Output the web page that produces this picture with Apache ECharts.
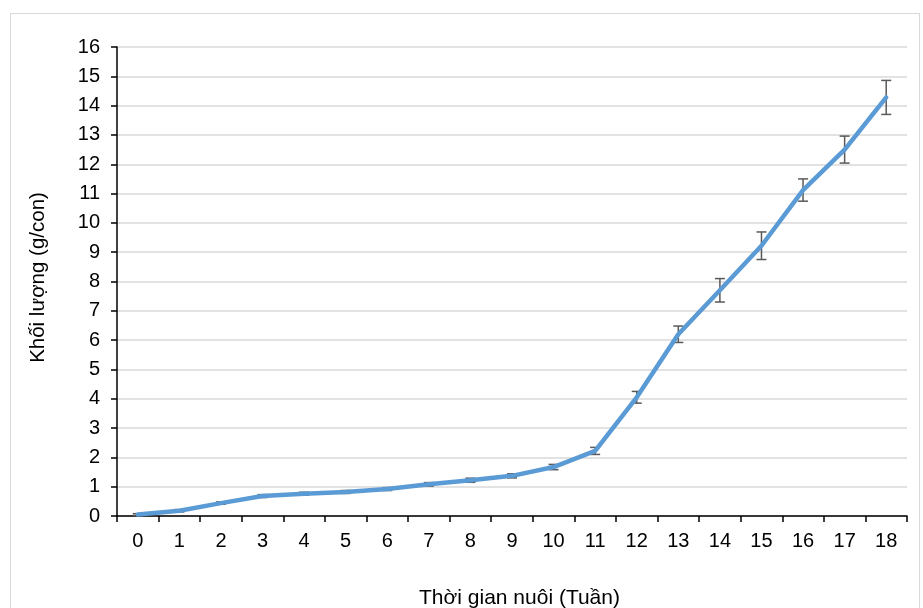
<!DOCTYPE html>
<html>
<head>
<meta charset="utf-8">
<script src="https://cdn.jsdelivr.net/npm/echarts@6/dist/echarts.min.js"></script>
<style>
  html, body { margin: 0; padding: 0; background: #fff; overflow: hidden; }
  #wrap { position: relative; width: 923px; height: 608px; overflow: hidden; }
  #frame { position: absolute; left: 10px; top: 13px; width: 910px; height: 595px; border: 1px solid #d9d9d9; border-bottom: none; box-sizing: border-box; }
  #chart { position: absolute; left: 0; top: 0; width: 923px; height: 608px; }
</style>
</head>
<body>
<div id="wrap">
<div id="frame"></div>
<div id="chart"></div>
</div>
<script>
// weeks of rearing
const weeks = ['0', '1', '2', '3', '4', '5', '6', '7', '8', '9', '10', '11', '12', '13', '14', '15', '16', '17', '18'];
// mean weight (g/con)
const weight = [0.05, 0.18, 0.44, 0.68, 0.76, 0.82, 0.92, 1.08, 1.22, 1.37, 1.67, 2.22, 4.05, 6.2, 7.7, 9.22, 11.12, 12.5, 14.28];
// standard deviation (error bar half-height)
const errors = [0.03, 0.04, 0.04, 0.05, 0.05, 0.05, 0.05, 0.06, 0.07, 0.07, 0.09, 0.12, 0.2, 0.28, 0.4, 0.47, 0.38, 0.46, 0.58];

const font = 'Liberation Sans, Arial, sans-serif';
const chart = echarts.init(document.getElementById('chart'));

const errorData = weeks.map((w, i) => [i, weight[i] - errors[i], weight[i] + errors[i]]);

const option = {
  animation: false,
  grid: { left: 117, top: 47, right: 16, bottom: 92, containLabel: false, outerBoundsMode: 'none' },
  xAxis: {
    type: 'category',
    data: weeks,
    boundaryGap: true,
    name: 'Thời gian nuôi (Tuần)',
    nameLocation: 'middle',
    nameGap: 72,
    nameTextStyle: { fontFamily: font, fontSize: 21, color: '#000', padding: [0, 0, 0, 15] },
    axisLine: { lineStyle: { color: '#000', width: 1.5 } },
    axisTick: { show: true, interval: 0, length: 6, lineStyle: { color: '#000', width: 1.5 } },
    axisLabel: { interval: 0, margin: 15, fontFamily: font, fontSize: 20, color: '#000' },
    splitLine: { show: false }
  },
  yAxis: {
    type: 'value',
    min: 0,
    max: 16,
    interval: 1,
    name: 'Khối lượng (g/con)',
    nameLocation: 'middle',
    nameGap: 68,
    nameTextStyle: { fontFamily: font, fontSize: 20.5, color: '#000', padding: [0, 0, 0, 8] },
    axisLine: { show: true, lineStyle: { color: '#000', width: 1.5 } },
    axisTick: { show: true, length: 6, lineStyle: { color: '#000', width: 1.5 } },
    axisLabel: { margin: 17, fontFamily: font, fontSize: 20, color: '#000' },
    splitLine: { lineStyle: { color: '#d9d9d9', width: 1.5 } }
  },
  series: [
    {
      type: 'custom',
      name: 'error',
      z: 1,
      data: errorData,
      renderItem: function (params, api) {
        const x = api.value(0);
        const lo = api.coord([x, api.value(1)]);
        const hi = api.coord([x, api.value(2)]);
        const half = 5;
        const style = { stroke: '#595959', lineWidth: 1.5 };
        return {
          type: 'group',
          children: [
            { type: 'line', shape: { x1: hi[0], y1: hi[1], x2: lo[0], y2: lo[1] }, style: style },
            { type: 'line', shape: { x1: hi[0] - half, y1: hi[1], x2: hi[0] + half, y2: hi[1] }, style: style },
            { type: 'line', shape: { x1: lo[0] - half, y1: lo[1], x2: lo[0] + half, y2: lo[1] }, style: style }
          ]
        };
      }
    },
    {
      type: 'line',
      name: 'weight',
      z: 2,
      data: weight,
      symbol: 'none',
      lineStyle: { color: '#5b9bd5', width: 4.5, cap: 'round', join: 'round' },
      itemStyle: { color: '#5b9bd5' }
    }
  ]
};

chart.setOption(option);
</script>
</body>
</html>
